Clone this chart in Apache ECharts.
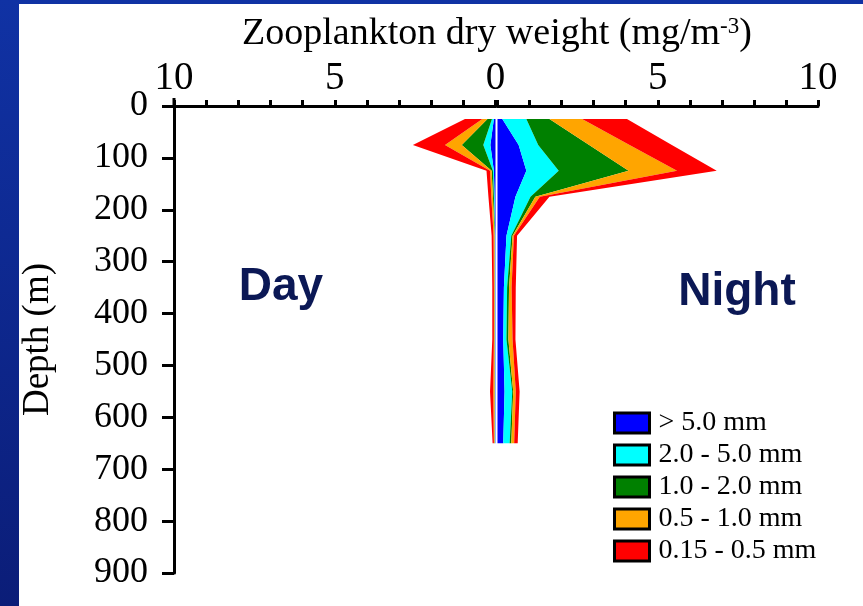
<!DOCTYPE html>
<html><head><meta charset="utf-8">
<script src="https://cdn.jsdelivr.net/npm/echarts@6/dist/echarts.min.js"></script>
<style>html,body{margin:0;padding:0;background:#fff}#c{width:863px;height:606px}</style>
</head><body><div id="c"></div>
<script>
// ---- data ----
const depths = [25, 75, 125, 175, 250, 350, 450, 550, 650];
const sizeClasses = ['> 5.0 mm', '2.0 - 5.0 mm', '1.0 - 2.0 mm', '0.5 - 1.0 mm', '0.15 - 0.5 mm'];
const classColors = ['#0000ff', '#00ffff', '#008000', '#ffa500', '#ff0000'];
const xTicks = [0, 5, 10];
const yTicks = [0, 100, 200, 300, 400, 500, 600, 700, 800, 900];

// Day (mg/m3) per size class
const dayGt5   = [0.05, 0.16, 0.05, 0.03, 0.01, 0.01, 0.01, 0.01, 0.01];
const day2to5  = [0.06, 0.22, 0.03, 0.02, 0.01, 0.01, 0.01, 0.01, 0.01];
const day1to2  = [0.14, 0.67, 0.04, 0.03, 0.01, 0.01, 0.01, 0.01, 0.01];
const day05to1 = [0.16, 0.52, 0.05, 0.05, 0.03, 0.02, 0.02, 0.04, 0.02];
const day015to05 = [0.54, 1.00, 0.11, 0.09, 0.06, 0.05, 0.05, 0.10, 0.04];

// Night (mg/m3) per size class
const nightGt5   = [0.15, 0.66, 0.90, 0.56, 0.28, 0.20, 0.18, 0.22, 0.18];
const night2to5  = [0.75, 0.61, 1.01, 0.47, 0.15, 0.10, 0.10, 0.24, 0.20];
const night1to2  = [0.72, 1.59, 2.18, 0.15, 0.04, 0.06, 0.06, 0.03, 0.05];
const night05to1 = [1.02, 1.26, 1.51, 0.14, 0.04, 0.08, 0.13, 0.08, 0.09];
const night015to05 = [1.40, 1.32, 1.24, 0.30, 0.10, 0.13, 0.09, 0.12, 0.11];

const daySets = [dayGt5, day2to5, day1to2, day05to1, day015to05];
const nightSets = [nightGt5, night2to5, night1to2, night05to1, night015to05];

// ---- build ----
const serif = "'Liberation Serif','Times New Roman',serif";

function bandRows(sets, k) {
  return depths.map((d, i) => {
    let inner = 0;
    for (let j = 0; j < k; j++) inner += sets[j][i];
    return [d, inner, inner + sets[k][i]];
  });
}

function renderBand(params, api) {
  if (params.dataIndexInside !== 0) return null;
  const n = params.dataInsideLength || depths.length;
  const outer = [], inner = [];
  for (let i = 0; i < n; i++) {
    const d = api.value(0, i);
    outer.push(api.coord([api.value(2, i), d]));
    inner.push(api.coord([api.value(1, i), d]));
  }
  return {
    type: 'polygon',
    shape: { points: outer.concat(inner.reverse()) },
    style: { fill: api.visual('color') }
  };
}

const series = [];
[daySets, nightSets].forEach((sets, side) => {
  sizeClasses.forEach((name, k) => {
    series.push({
      type: 'custom', name: name,
      xAxisIndex: side, yAxisIndex: side,
      itemStyle: { color: classColors[k] },
      renderItem: renderBand,
      encode: { x: [1, 2], y: 0 },
      data: bandRows(sets, k),
      silent: true, clip: false
    });
  });
});

function xAxisCfg(inverse, showZero) {
  return {
    type: 'value', position: 'top', min: 0, max: 10, interval: 5, inverse: inverse,
    axisLine: { onZero: false, lineStyle: { color: '#000', width: 3 } },
    axisTick: { show: true, inside: false, length: 6, lineStyle: { color: '#000', width: 3 } },
    minorTick: { show: true, splitNumber: 5, length: 6, lineStyle: { color: '#000', width: 3 } },
    splitLine: { show: false },
    axisLabel: {
      margin: 8, fontSize: 39, color: '#000', fontFamily: serif,
      formatter: v => (xTicks.indexOf(v) >= 0 && (v !== 0 || showZero)) ? String(v) : ''
    }
  };
}

function yAxisCfg(show) {
  return {
    type: 'value', inverse: true, min: 0, max: 900, interval: 100, show: show,
    name: 'Depth (m)', nameLocation: 'middle', nameGap: 117, nameRotate: 90,
    nameTextStyle: { fontSize: 37, color: '#000', fontFamily: serif },
    axisLine: { onZero: false, lineStyle: { color: '#000', width: 3 } },
    axisTick: { show: true, inside: false, length: 12, lineStyle: { color: '#000', width: 3 } },
    splitLine: { show: false },
    axisLabel: {
      margin: 26, fontSize: 36, color: '#000', fontFamily: serif,
      formatter: v => yTicks.indexOf(v) >= 0 ? String(v) : ''
    }
  };
}

const chart = echarts.init(document.getElementById('c'), null, { renderer: 'canvas' });
chart.setOption({
  animation: false,
  backgroundColor: {
    type: 'linear', x: 0, y: 0, x2: 0, y2: 1,
    colorStops: [{ offset: 0, color: '#1032a4' }, { offset: 1, color: '#0b1d78' }]
  },
  title: {
    text: 'Zooplankton dry weight (mg/m{sup|-3})',
    left: 237, top: 10,
    textStyle: {
      fontSize: 38, fontWeight: 'normal', color: '#000', fontFamily: serif,
      rich: { sup: { fontSize: 23, verticalAlign: 'top', color: '#000', fontFamily: serif } }
    }
  },
  graphic: [
    { type: 'rect', z: -10, shape: { x: 19, y: 4, width: 844, height: 602 }, style: { fill: '#ffffff' } },
    { type: 'line', shape: { x1: 174, y1: 98, x2: 174, y2: 107 }, style: { stroke: '#000', lineWidth: 3 } },
    { type: 'text', x: 281, y: 287, style: { text: 'Day', fill: '#0b1855', font: "bold 46px 'Liberation Sans', Arial, sans-serif", align: 'center', verticalAlign: 'middle' } },
    { type: 'text', x: 737, y: 292, style: { text: 'Night', fill: '#0b1855', font: "bold 46px 'Liberation Sans', Arial, sans-serif", align: 'center', verticalAlign: 'middle' } }
  ],
  legend: {
    orient: 'vertical', left: 608, top: 404, itemGap: 4,
    itemWidth: 35, itemHeight: 20, icon: 'rect', selectedMode: false,
    data: sizeClasses,
    itemStyle: { borderColor: '#000', borderWidth: 3 },
    textStyle: { fontSize: 28, color: '#000', fontFamily: serif, padding: [0, 0, 0, 4] }
  },
  grid: [
    { left: 174, right: 863 - 495.5, top: 106, bottom: 606 - 573 },
    { left: 497.5, right: 863 - 818, top: 106, bottom: 606 - 573 }
  ],
  xAxis: [xAxisCfg(true, true), Object.assign(xAxisCfg(false, false), { gridIndex: 1 })],
  yAxis: [yAxisCfg(true), Object.assign(yAxisCfg(false), { gridIndex: 1 })],
  series: series
});
</script>
</body></html>
